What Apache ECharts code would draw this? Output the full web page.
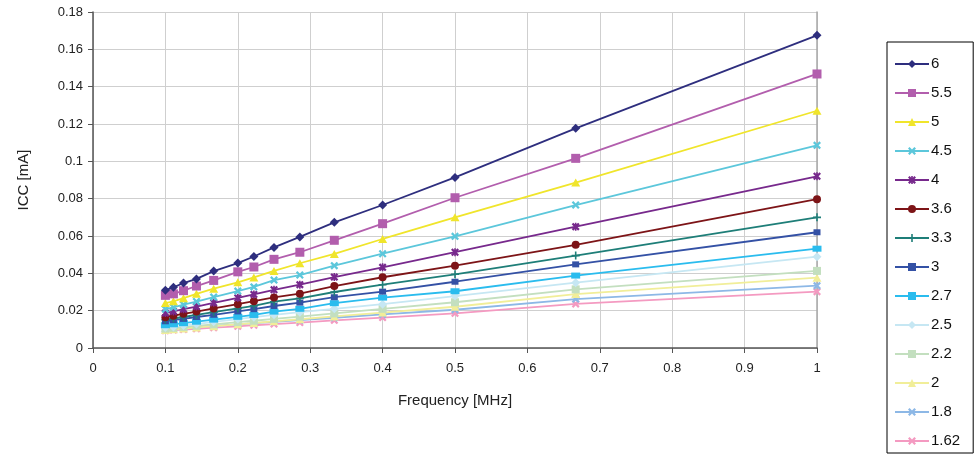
<!DOCTYPE html>
<html>
<head>
<meta charset="utf-8">
<script src="https://cdn.jsdelivr.net/npm/echarts@6/dist/echarts.min.js"></script>
<style>
html,body{margin:0;padding:0;background:#fff;}
#chart{width:979px;height:457px;}
</style>
</head>
<body>
<div id="chart"></div>
<script>
// Frequencies [MHz]
const freq = [0.1, 0.1111, 0.125, 0.1429, 0.1667, 0.2, 0.2222, 0.25, 0.2857, 0.3333, 0.4, 0.5, 0.6667, 1];
const seriesNames = ['6', '5.5', '5', '4.5', '4', '3.6', '3.3', '3', '2.7', '2.5', '2.2', '2', '1.8', '1.62'];
const v6   = [0.0310,0.0325,0.0348,0.0370,0.0412,0.0455,0.0490,0.0539,0.0595,0.0673,0.0766,0.0914,0.1177,0.1675];
const v55  = [0.0282,0.0290,0.0307,0.0332,0.0362,0.0408,0.0434,0.0475,0.0513,0.0577,0.0666,0.0805,0.1016,0.1468];
const v5   = [0.0241,0.0250,0.0267,0.0290,0.0318,0.0352,0.0378,0.0413,0.0454,0.0504,0.0584,0.0700,0.0886,0.1271];
const v45  = [0.0208,0.0218,0.0232,0.0249,0.0273,0.0305,0.0327,0.0364,0.0391,0.0441,0.0505,0.0598,0.0766,0.1086];
const v4   = [0.0187,0.0196,0.0208,0.0222,0.0242,0.0269,0.0287,0.0312,0.0339,0.0380,0.0432,0.0513,0.0650,0.0920];
const v36  = [0.0165,0.0173,0.0183,0.0195,0.0212,0.0235,0.0251,0.0271,0.0291,0.0332,0.0379,0.0441,0.0553,0.0797];
const v33  = [0.0151,0.0158,0.0166,0.0177,0.0192,0.0212,0.0226,0.0248,0.0266,0.0300,0.0339,0.0395,0.0495,0.0700];
const v3   = [0.0143,0.0149,0.0156,0.0166,0.0178,0.0196,0.0208,0.0225,0.0243,0.0272,0.0302,0.0355,0.0448,0.0620];
const v27  = [0.0122,0.0127,0.0133,0.0141,0.0152,0.0167,0.0177,0.0195,0.0210,0.0240,0.0270,0.0304,0.0388,0.0532];
const v25  = [0.0110,0.0113,0.0120,0.0128,0.0140,0.0155,0.0165,0.0178,0.0192,0.0210,0.0235,0.0278,0.0350,0.0489];
const v22  = [0.0104,0.0108,0.0113,0.0119,0.0127,0.0139,0.0146,0.0156,0.0168,0.0185,0.0210,0.0245,0.0314,0.0413];
const v2   = [0.0096,0.0100,0.0104,0.0110,0.0117,0.0127,0.0134,0.0143,0.0154,0.0169,0.0190,0.0221,0.0289,0.0377];
const v18  = [0.0101,0.0104,0.0108,0.0112,0.0118,0.0127,0.0133,0.0140,0.0149,0.0162,0.0180,0.0205,0.0262,0.0334];
const v162 = [0.0093,0.0096,0.0099,0.0103,0.0109,0.0116,0.0122,0.0128,0.0136,0.0148,0.0163,0.0186,0.0236,0.0302];
const allValues = [v6, v55, v5, v45, v4, v36, v33, v3, v27, v25, v22, v2, v18, v162];

const X_PATH = 'path://M0,2 L2,0 L5,3 L8,0 L10,2 L7,5 L10,8 L8,10 L5,7 L2,10 L0,8 L3,5 Z';
const PLUS_PATH = 'path://M4,0 H6 V4 H10 V6 H6 V10 H4 V6 H0 V4 H4 Z';
const STAR_PATH = 'path://M0,2 L2,0 L5,3 L8,0 L10,2 L7,5 L10,8 L8,10 L5,7 L2,10 L0,8 L3,5 Z M4,0 H6 V10 H4 Z';
const styles = [
  {c:'#2E2E7E', s:'diamond', z:[9,9]},
  {c:'#B25EAD', s:'rect', z:[9,9]},
  {c:'#F0E52B', s:'triangle', z:[9,8]},
  {c:'#5CC7DB', s:X_PATH, z:[8,8]},
  {c:'#77298C', s:STAR_PATH, z:[8,8]},
  {c:'#7D1417', s:'circle', z:[8,8]},
  {c:'#1E7E78', s:PLUS_PATH, z:[8,8]},
  {c:'#3451A5', s:'rect', z:[7,6]},
  {c:'#2ABCEE', s:'rect', z:[9,6]},
  {c:'#C6E7F3', s:'diamond', z:[9,9]},
  {c:'#C3DFBF', s:'rect', z:[8,8]},
  {c:'#F1EE99', s:'triangle', z:[9,8]},
  {c:'#8DB8E6', s:X_PATH, z:[8,8]},
  {c:'#F49AC1', s:X_PATH, z:[8,8]}
];

const series = seriesNames.map((n, i) => ({
  name: n,
  type: 'line',
  data: freq.map((f, j) => [f, allValues[i][j]]),
  symbol: styles[i].s,
  symbolSize: styles[i].z,
  showSymbol: true,
  lineStyle: {color: styles[i].c, width: 1.8},
  itemStyle: {color: styles[i].c},
  emphasis: {disabled: true},
  animation: false,
  z: 20 - i
}));

const chart = echarts.init(document.getElementById('chart'), null, {renderer: 'canvas'});
chart.setOption({
  animation: false,
  textStyle: {fontFamily: 'Liberation Sans, Arial, sans-serif'},
  grid: {left: 93, right: 162, top: 12, bottom: 109},
  xAxis: {
    type: 'value', min: 0, max: 1, interval: 0.1,
    name: 'Frequency [MHz]', nameLocation: 'middle', nameGap: 45,
    nameTextStyle: {fontSize: 15, color: '#222'},
    axisLine: {show: true, onZero: false, lineStyle: {color: '#555', width: 1.5}},
    axisTick: {show: true, length: 5, lineStyle: {color: '#555'}},
    axisLabel: {fontSize: 13, color: '#222', margin: 14},
    splitLine: {show: true, lineStyle: {color: '#CFCFCF', width: 1}}
  },
  yAxis: [{
    type: 'value', min: 0, max: 0.18, interval: 0.02,
    name: 'ICC [mA]', nameLocation: 'middle', nameGap: 62, nameRotate: 90,
    nameTextStyle: {fontSize: 15, color: '#222'},
    axisLine: {show: true, lineStyle: {color: '#555', width: 1.5}},
    axisTick: {show: true, length: 5, lineStyle: {color: '#555'}},
    axisLabel: {fontSize: 13, color: '#222', margin: 10},
    splitLine: {show: true, lineStyle: {color: '#CFCFCF', width: 1}}
  }, {
    type: 'value', min: 0, max: 0.18, interval: 0.02, position: 'right',
    axisLine: {show: true, lineStyle: {color: '#A8A8A8', width: 1.5}},
    axisTick: {show: false}, axisLabel: {show: false}, splitLine: {show: false}
  }],
  legend: {
    orient: 'vertical',
    left: 887, top: 42,
    width: 86,
    padding: [14, 13, 4, 7],
    itemGap: 13,
    itemWidth: 34, itemHeight: 10,
    borderColor: '#000', borderWidth: 1,
    textStyle: {fontSize: 15, color: '#111', lineHeight: 16, padding: [0, 0, 0, -3]},
    data: seriesNames
  },
  series: series
});
</script>
</body>
</html>
